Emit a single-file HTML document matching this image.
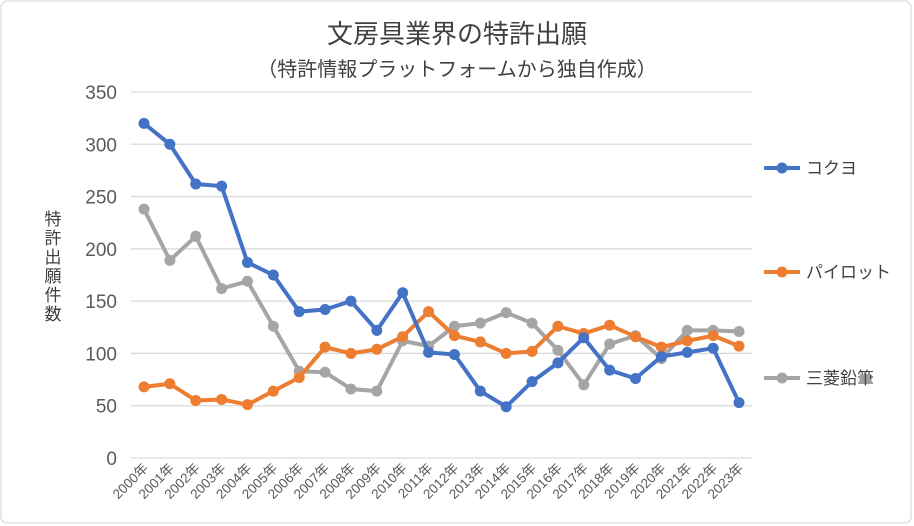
<!DOCTYPE html>
<html><head><meta charset="utf-8"><style>
body{margin:0;background:#fff;}
svg{display:block;font-family:"Liberation Sans","Noto Sans CJK JP",sans-serif;}
</style></head><body>
<svg id="chart" width="914" height="526">
<rect x="1" y="1" width="910" height="522" rx="6" fill="#fff" stroke="#d0d0d0"/>
<text x="457" y="43" text-anchor="middle" font-size="26" fill="#404040">文房具業界の特許出願</text>
<text x="457" y="76" text-anchor="middle" font-size="20" fill="#404040">（特許情報プラットフォームから独自作成）</text>
<g id="yaxisTitle" font-size="17" fill="#404040"></g>
<g id="grid"></g><g id="xlabels"></g><g id="series"></g><g id="legend"></g>
</svg>
<script>
const years=["2000年","2001年","2002年","2003年","2004年","2005年","2006年","2007年","2008年","2009年","2010年","2011年","2012年","2013年","2014年","2015年","2016年","2017年","2018年","2019年","2020年","2021年","2022年","2023年"];
const kokuyo=[320,300,262,260,187,175,140,142,150,122,158,101,99,64,49,73,91,115,84,76,97,101,105,53];
const pilot=[68,71,55,56,51,64,77,106,100,104,116,140,117,111,100,102,126,119,127,116,106,112,117,107];
const mitsubishi=[238,189,212,162,169,126,83,82,66,64,112,107,126,129,139,129,103,70,109,117,95,122,122,121];
const yTicks=[0,50,100,150,200,250,300,350];
const seriesNames=["コクヨ","パイロット","三菱鉛筆"];
const colors=["#4472c4","#ed7d31","#a5a5a5"];
const NS="http://www.w3.org/2000/svg";
const x0=144,step=25.87,yb=458,yt=92;
const X=i=>x0+i*step, Y=v=>yb-(v/350)*(yb-yt);
function mk(t,a,p){const e=document.createElementNS(NS,t);for(const k in a)e.setAttribute(k,a[k]);p.appendChild(e);return e;}
const grid=document.getElementById('grid');
yTicks.forEach(v=>{
 const l=mk('line',{x1:131,x2:752,y1:Y(v),y2:Y(v),stroke:'#d9d9d9','stroke-width':1.3},grid);
 
 
 const t=mk('text',{x:117,y:Y(v)+7,'text-anchor':'end','font-size':19,fill:'#595959'},grid);
 t.textContent=v;
 
 
});
const yt2=document.getElementById('yaxisTitle');
"特許出願件数".split('').forEach((c,i)=>{const t=mk('text',{x:53,y:225+i*19,'text-anchor':'middle'},yt2);t.textContent=c;});
const xl=document.getElementById('xlabels');
years.forEach((y,i)=>{
 const t=mk('text',{x:X(i)+5,y:469,'text-anchor':'end','font-size':13.5,fill:'#595959',transform:`rotate(-45 ${X(i)+5} 469)`},xl);
 t.textContent=y;
 
 
});
const sg=document.getElementById('series');
[kokuyo,pilot,mitsubishi].slice().reverse().forEach((d,ri)=>{
 const si=2-ri;
 const g=mk('g',{},sg);
 
 
 mk('polyline',{points:d.map((v,i)=>X(i)+','+Y(v)).join(' '),fill:'none',stroke:colors[si],'stroke-width':4,'stroke-linejoin':'round'},g);
 d.forEach((v,i)=>{const c=mk('circle',{cx:X(i),cy:Y(v),r:5.5,fill:colors[si]},g);
  
  });
});
const lg=document.getElementById('legend');
const ly=[168,272,378];
seriesNames.forEach((n,i)=>{
 const g=mk('g',{},lg);
 
 
 mk('line',{x1:764,x2:800,y1:ly[i],y2:ly[i],stroke:colors[i],'stroke-width':4},g);
 mk('circle',{cx:782,cy:ly[i],r:5.5,fill:colors[i]},g);
 const t=mk('text',{x:806,y:ly[i]+6,'font-size':17,fill:'#404040'},g);t.textContent=n;
});
</script>
</body></html>
